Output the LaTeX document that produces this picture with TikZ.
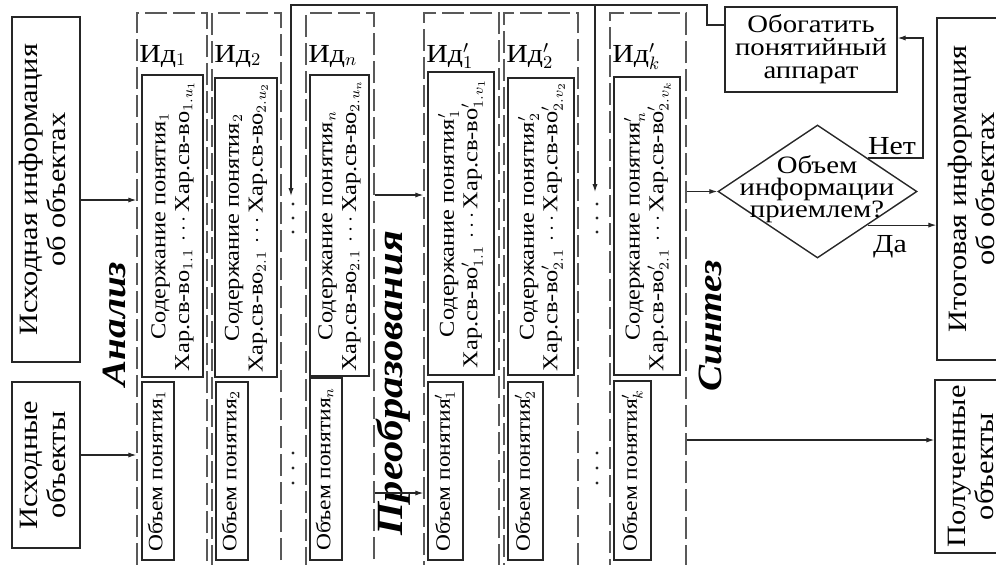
\documentclass[tikz,border=0pt]{standalone}
\usepackage{fontspec}
\setmainfont{Liberation Serif}[FakeStretch=1.15]
\usetikzlibrary{arrows.meta,shapes.geometric,fit}
\newcommand\rt[2]{\rotatebox{90}{#1\begin{tabular}{@{}c@{}}#2\end{tabular}}}
\newcommand\fbig{\fontsize{13.2}{14}\selectfont}
\newcommand\fcont{\fontsize{10.6}{11.8}\selectfont}
\newcommand\fvol{\fontsize{10.2}{11}\selectfont}
\tikzset{
  sbox/.style={draw=black!85, line width=0.7pt, inner sep=0pt},
  dbox/.style={draw=black!65, line width=0.7pt, dash pattern=on 11pt off 3pt, inner sep=0pt},
  txt/.style={inner sep=0pt, anchor=center},
  arr/.style={draw=black!85, line width=0.6pt, -{Latex[length=4pt,width=2.6pt]}},
  lbl/.style={font=\fontsize{13}{15}\selectfont, inner sep=0pt},
  big/.style={font=\fontsize{17}{20}\selectfont\bfseries\itshape, inner sep=0pt},
  dot/.style={circle, fill=black!85, inner sep=0pt, minimum size=1.6pt},
}
\begin{document}
\begin{tikzpicture}[x=0.5pt,y=-0.5pt]
\useasboundingbox (0,0) rectangle (996,564);
\clip (0,0) rectangle (996,564);

% source boxes
\node[sbox, fit={(12,17)(80,362)}] (b1) {};
\node[txt] (b1t) at (b1.center) {\rt{\fbig}{Исходная информация\\об объектах}};
\node[sbox, fit={(12,382)(80,548)}] (b2) {};
\node[txt] (b2t) at (b2.center) {\rt{\fbig}{Исходные\\объекты}};
\node[big, rotate=90] (an) at (114,324) {Анализ};

% analysis columns
\node[dbox, fit={(137,13)(207,575)}] (id1) {};
\node[lbl, anchor=base west] (id1l) at (139,62) {Ид$_1$};
\node[sbox, fit={(142,75)(203,377)}] (c1) {};
\node[txt] (c1t) at (c1.center) {\rt{\fcont}{Содержание понятия$_1$\\Хар.св-во$_{1.1}\,\cdots\,$Хар.св-во$_{1.u_1}$}};
\node[sbox, fit={(142,382)(174,560)}] (v1) {};
\node[txt] (v1t) at (v1.center) {\rt{\fvol}{Объем понятия$_1$}};

\node[dbox, fit={(212,13)(281,575)}] (id2) {};
\node[lbl, anchor=base west] (id2l) at (214,62) {Ид$_2$};
\node[sbox, fit={(215,78)(277,377)}] (c2) {};
\node[txt] (c2t) at (c2.center) {\rt{\fcont}{Содержание понятия$_2$\\Хар.св-во$_{2.1}\,\cdots\,$Хар.св-во$_{2.u_2}$}};
\node[sbox, fit={(216,382)(248,560)}] (v2) {};
\node[txt] (v2t) at (v2.center) {\rt{\fvol}{Объем понятия$_2$}};

\node[dbox, fit={(306,13)(374,575)}] (idn) {};
\node[lbl, anchor=base west] (idnl) at (308,62) {Ид$_n$};
\node[sbox, fit={(310,75)(369,376)}] (cn) {};
\node[txt] (cnt) at (cn.center) {\rt{\fcont}{Содержание понятия$_n$\\Хар.св-во$_{2.1}\,\cdots\,$Хар.св-во$_{2.u_n}$}};
\node[sbox, fit={(310,378)(342,560)}] (vn) {};
\node[txt] (vnt) at (vn.center) {\rt{\fvol}{Объем понятия$_n$}};

\node[big, rotate=90, font=\fontsize{18.5}{20}\selectfont\bfseries\itshape] (pr) at (393,383) {Преобразования};

% transformed columns
\node[dbox, fit={(424,13)(499,575)}] (idp1) {};
\node[lbl, anchor=base west] (idp1l) at (426,62) {Ид$'_1$};
\node[sbox, fit={(428,72)(494,375)}] (cp1) {};
\node[txt] (cp1t) at (cp1.center) {\rt{\fcont}{Содержание понятия$'_1$\\Хар.св-во$'_{1.1}\,\cdots\,$Хар.св-во$'_{1.v_1}$}};
\node[sbox, fit={(428,382)(463,560)}] (vp1) {};
\node[txt] (vp1t) at (vp1.center) {\rt{\fvol}{Объем понятия$'_1$}};

\node[dbox, fit={(504,13)(578,575)}] (idp2) {};
\node[lbl, anchor=base west] (idp2l) at (506,62) {Ид$'_2$};
\node[sbox, fit={(508,78)(574,375)}] (cp2) {};
\node[txt] (cp2t) at (cp2.center) {\rt{\fcont}{Содержание понятия$'_2$\\Хар.св-во$'_{2.1}\,\cdots\,$Хар.св-во$'_{2.v_2}$}};
\node[sbox, fit={(508,382)(543,560)}] (vp2) {};
\node[txt] (vp2t) at (vp2.center) {\rt{\fvol}{Объем понятия$'_2$}};

\node[dbox, fit={(610,13)(686,575)}] (idk) {};
\node[lbl, anchor=base west] (idkl) at (612,62) {Ид$'_k$};
\node[sbox, fit={(614,77)(680,375)}] (cpk) {};
\node[txt] (cpkt) at (cpk.center) {\rt{\fcont}{Содержание понятия$'_n$\\Хар.св-во$'_{2.1}\,\cdots\,$Хар.св-во$'_{2.v_k}$}};
\node[sbox, fit={(614,381)(651,560)}] (vpk) {};
\node[txt] (vpkt) at (vpk.center) {\rt{\fvol}{Объем понятия$'_k$}};

\node[big, rotate=90] (sy) at (710,326) {Синтез};

% dots
\foreach \yy [count=\i] in {204,218,232,453,468,483} {
  \node[dot] (da\i) at (293,\yy) {};
  \node[dot] (db\i) at (597,\yy) {};
}

% decision and enrichment
\node[sbox, diamond, minimum width=99.5pt, minimum height=66.5pt] (dm) at (817.5,191.5) {};
\node[font=\fontsize{12.5}{11}\selectfont, align=center, inner sep=0pt] (dmt) at (817,189) {Объем\\информации\\приемлем?};
\node[sbox, fit={(725,7)(897,92)}] (ob) {};
\node[txt, font=\fontsize{12.5}{11.4}\selectfont, align=center] (obt) at (ob.center) {Обогатить\\понятийный\\аппарат};

% result boxes
\node[sbox, fit={(937,18)(1012,360)}] (it) {};
\node[txt] (itt) at (it.center) {\rt{\fbig}{Итоговая информация\\об объектах}};
\node[sbox, fit={(935,380)(1012,553)}] (pol) {};
\node[txt] (polt) at (pol.center) {\rt{\fbig}{Полученные\\объекты}};

% connectors
\draw[arr] (b1.east |- 0,200) -- (id1.west |- 0,200);
\draw[arr] (b2.east |- 0,455) -- (id1.west |- 0,455);
\draw[arr] (idn.east |- 0,195) -- (idp1.west |- 0,195);
\draw[arr] (idn.east |- 0,493) -- (idp1.west |- 0,493);
\draw[arr] (idk.east |- dm.west) -- (dm.west);
\draw[arr] (idk.east |- 0,440) -- (pol.west |- 0,440);

\coordinate (k1) at (707,25);
\coordinate (k2) at (707,5);
\coordinate (k3) at (291,5);
\coordinate (fA) at (291,196);
\coordinate (k4) at (595,5);
\coordinate (fB) at (595,192);
\draw[arr] (ob.west |- k1) -- (k1) -- (k2) -- (k3) -- (fA);
\draw[arr] (k4) -- (fB);

\coordinate (n1) at (923,38);
\draw[arr] (dm.north east) -- (dm.north east -| n1) -- (n1) -- (ob.east |- n1);
\node[lbl] (net) at (892,146) {Нет};
\draw[arr] (dm.south east) -- (it.west |- dm.south east);
\node[lbl] (da) at (890,247) {Да};
\end{tikzpicture}
\end{document}
